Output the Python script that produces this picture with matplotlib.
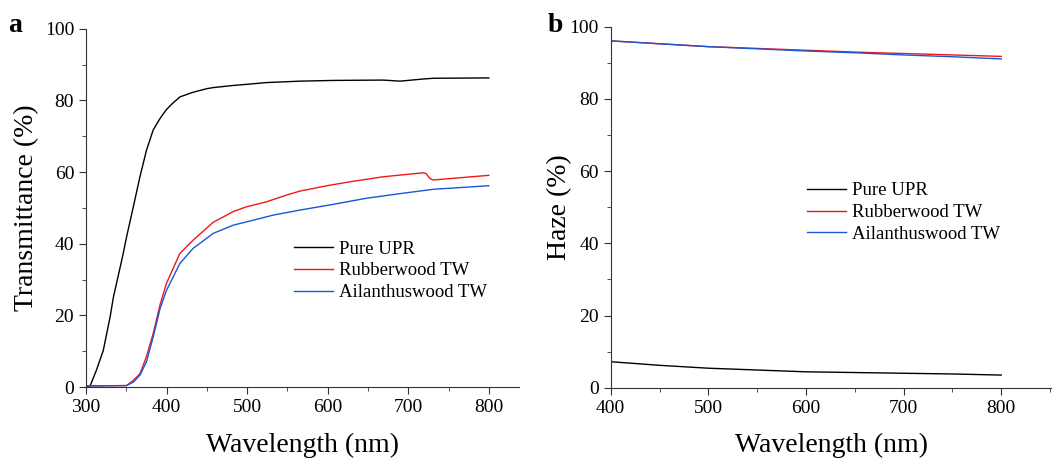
import matplotlib.pyplot as plt
from matplotlib.ticker import MultipleLocator

plt.rcParams['font.family'] = ['Liberation Serif', 'DejaVu Serif']

# (a) transmittance spectra
wl_upr = [300, 305, 313, 321.5, 330, 334, 338, 346, 350.5, 359, 367, 375, 383.5, 392, 400,
          408, 416.6, 433, 450, 458, 483, 499, 524, 565.5, 607, 669, 690, 718.6, 731, 800]
t_upr = [0, 0.2, 4.7, 10.2, 19.6, 25, 29, 37, 42, 50.5, 58.7, 66, 71.8, 75, 77.5,
         79.3, 81, 82.3, 83.3, 83.6, 84.2, 84.5, 85, 85.4, 85.6, 85.7, 85.4, 86, 86.2, 86.3]

wl_rw = [300, 350.5, 359, 367, 375, 383.5, 392, 400, 416.6, 433, 458, 483, 499, 524, 549,
         565.5, 599, 627.6, 669, 700, 718.6, 722, 727, 731, 752, 800]
t_rw = [0.3, 0.4, 1.9, 3.7, 8.4, 15, 23, 29, 37.3, 41, 46, 49, 50.3, 51.7, 53.6,
        54.7, 56.2, 57.3, 58.7, 59.4, 59.8, 59.6, 58.2, 57.8, 58.2, 59.1]

wl_aw = [300, 350.5, 359, 367, 375, 383.5, 392, 400, 416.6, 433, 458, 483, 508, 532.5,
         565.5, 607, 648, 690, 731, 800]
t_aw = [0.3, 0.4, 1.4, 3.3, 7, 14, 21.9, 27, 34.5, 38.7, 42.9, 45.2, 46.6, 48,
        49.4, 51, 52.7, 54, 55.2, 56.2]

# (b) haze spectra
wl_haze = [400, 450, 500, 550, 600, 650, 700, 750, 800]
h_upr = [7.2, 6.2, 5.4, 4.9, 4.4, 4.2, 4.0, 3.8, 3.5]
h_rw = [96.1, 95.3, 94.5, 94.0, 93.5, 93.0, 92.6, 92.2, 91.8]
h_aw = [96.1, 95.3, 94.5, 93.9, 93.3, 92.8, 92.2, 91.7, 91.1]

labels = ['Pure UPR', 'Rubberwood TW', 'Ailanthuswood TW']
colors = ['black', '#f01818', '#1a56d8']

fig = plt.figure(figsize=(10.52, 4.58), dpi=100)
ax1 = fig.add_axes([0.0817, 0.155, 0.4113, 0.782])
ax2 = fig.add_axes([0.5805, 0.1535, 0.4195, 0.788])

ax1.plot(wl_upr, t_upr, color=colors[0], lw=1.0, label=labels[0])
ax1.plot(wl_rw, t_rw, color=colors[1], lw=1.0, label=labels[1])
ax1.plot(wl_aw, t_aw, color=colors[2], lw=1.0, label=labels[2])
ax1.set_xlim(300, 837)
ax1.set_ylim(0, 100)
ax1.set_xticks([300, 400, 500, 600, 700, 800])
ax1.set_ylabel('Transmittance (%)', fontsize=20)

ax2.plot(wl_haze, h_upr, color=colors[0], lw=1.0, label=labels[0])
ax2.plot(wl_haze, h_rw, color=colors[1], lw=1.0, label=labels[1])
ax2.plot(wl_haze, h_aw, color=colors[2], lw=1.0, label=labels[2])
ax2.set_xlim(400, 852)
ax2.set_ylim(0, 100)
ax2.set_xticks([400, 500, 600, 700, 800])
ax2.set_ylabel('Haze (%)', fontsize=20, labelpad=-2)

for ax in (ax1, ax2):
    ax.spines['top'].set_visible(False)
    ax.spines['right'].set_visible(False)
    ax.spines['left'].set_color('#333333')
    ax.spines['bottom'].set_color('#333333')
    ax.set_yticks([0, 20, 40, 60, 80, 100])
    ax.xaxis.set_minor_locator(MultipleLocator(50))
    ax.yaxis.set_minor_locator(MultipleLocator(10))
    ax.tick_params(which='major', direction='out', length=5, labelsize=14, color='#333333')
    ax.tick_params(which='minor', direction='out', length=3, color='#333333')
    ax.set_xlabel('Wavelength (nm)', fontsize=20, labelpad=12)

ax1.legend(loc='upper left', bbox_to_anchor=(0.463, 0.43), frameon=False, fontsize=13.5,
           handlelength=2.1, handletextpad=0.3, labelspacing=0.25, borderaxespad=0)
ax2.legend(loc='upper left', bbox_to_anchor=(0.428, 0.59), frameon=False, fontsize=13.5,
           handlelength=2.1, handletextpad=0.3, labelspacing=0.25, borderaxespad=0)

fig.text(0.008, 0.93, 'a', fontsize=20, fontweight='bold')
fig.text(0.521, 0.93, 'b', fontsize=20, fontweight='bold')

fig.savefig('out.png', dpi=100)
